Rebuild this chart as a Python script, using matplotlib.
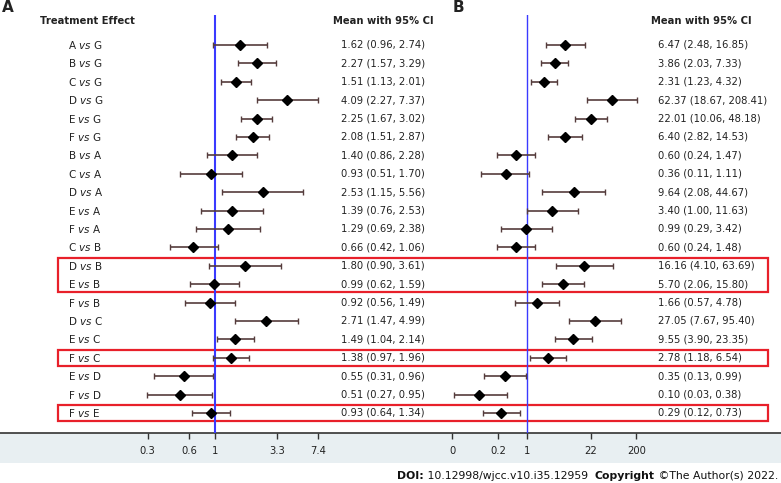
import matplotlib
matplotlib.use("Agg")
import matplotlib.pyplot as plt
from matplotlib.patches import Rectangle
from matplotlib.transforms import blended_transform_factory

labels = ["A vs G", "B vs G", "C vs G", "D vs G", "E vs G", "F vs G",
          "B vs A", "C vs A", "D vs A", "E vs A", "F vs A",
          "C vs B", "D vs B", "E vs B", "F vs B",
          "D vs C", "E vs C", "F vs C",
          "E vs D", "F vs D", "F vs E"]

# panel A: mean, lower, upper
a_mean = [1.62, 2.27, 1.51, 4.09, 2.25, 2.08, 1.40, 0.93, 2.53, 1.39, 1.29,
          0.66, 1.80, 0.99, 0.92, 2.71, 1.49, 1.38, 0.55, 0.51, 0.93]
a_lo = [0.96, 1.57, 1.13, 2.27, 1.67, 1.51, 0.86, 0.51, 1.15, 0.76, 0.69,
        0.42, 0.90, 0.62, 0.56, 1.47, 1.04, 0.97, 0.31, 0.27, 0.64]
a_hi = [2.74, 3.29, 2.01, 7.37, 3.02, 2.87, 2.28, 1.70, 5.56, 2.53, 2.38,
        1.06, 3.61, 1.59, 1.49, 4.99, 2.14, 1.96, 0.96, 0.95, 1.34]

# panel B
b_mean = [6.47, 3.86, 2.31, 62.37, 22.01, 6.40, 0.60, 0.36, 9.64, 3.40, 0.99,
          0.60, 16.16, 5.70, 1.66, 27.05, 9.55, 2.78, 0.35, 0.10, 0.29]
b_lo = [2.48, 2.03, 1.23, 18.67, 10.06, 2.82, 0.24, 0.11, 2.08, 1.00, 0.29,
        0.24, 4.10, 2.06, 0.57, 7.67, 3.90, 1.18, 0.13, 0.03, 0.12]
b_hi = [16.85, 7.33, 4.32, 208.41, 48.18, 14.53, 1.47, 1.11, 44.67, 11.63, 3.42,
        1.48, 63.69, 15.80, 4.78, 95.40, 23.35, 6.54, 0.99, 0.38, 0.73]

a_ticks = [0.2725, 0.607, 1, 3.32, 7.39]
a_ticklabels = ["0.3", "0.6", "1", "3.3", "7.4"]
b_ticks = [0.0275, 0.25, 1, 22.2, 200]
b_ticklabels = ["0", "0.2", "1", "22", "200"]

boxed = [(12, 13), (17, 17), (20, 20)]

W, H = 781, 483
fig = plt.figure(figsize=(W / 100, H / 100), dpi=100)
bg = fig.add_axes([0, 0, 1, 1])
bg.set_xlim(0, W)
bg.set_ylim(H, 0)
bg.axis("off")

TXT = "#222222"
ERR = "#553c3c"
FS = 7.2
row0, step = 45, 18.4
top_px, axis_px = 15, 433

# bottom band + axis line
bg.add_patch(Rectangle((0, axis_px), W, 30, facecolor="#e8eff2", edgecolor="none"))
bg.plot([0, W], [axis_px, axis_px], color="#333333", lw=1.2)


def forest(x0, x1, one_px, px_dec, mean, lo, hi, ticks, ticklabels, lw_ref):
    ax = fig.add_axes([x0 / W, (H - axis_px) / H, (x1 - x0) / W, (axis_px - top_px) / H])
    ax.patch.set_visible(False)
    ax.set_xscale("log")
    ax.set_xlim(10 ** ((x0 - one_px) / px_dec), 10 ** ((x1 - one_px) / px_dec))
    ax.set_ylim((axis_px - row0) / step, (top_px - row0) / step)
    for s in ax.spines.values():
        s.set_visible(False)
    ax.axvline(1, color="#3a3aff", lw=lw_ref, zorder=1)
    y = list(range(len(mean)))
    xerr = [[m - l for m, l in zip(mean, lo)], [h - m for m, h in zip(mean, hi)]]
    ax.errorbar(mean, y, xerr=xerr, fmt="none", ecolor=ERR, elinewidth=1.2,
                capsize=2.5, capthick=1, zorder=2)
    ax.plot(mean, y, "D", color="black", ms=5.5, zorder=3)
    ax.set_yticks([])
    ax.xaxis.set_minor_locator(matplotlib.ticker.NullLocator())
    ax.set_xticks(ticks)
    ax.set_xticklabels(ticklabels)
    ax.tick_params(axis="x", direction="out", length=4, width=1, color="#333333",
                   labelsize=FS, labelcolor=TXT, pad=5)
    return ax


axA = forest(100, 330, 214.7, 119, a_mean, a_lo, a_hi, a_ticks, a_ticklabels, 1.5)
axB = forest(440, 650, 526.7, 47.7, b_mean, b_lo, b_hi, b_ticks, b_ticklabels, 1.0)

tr = blended_transform_factory(bg.transData, axA.transData)

# headers and panel letters
bg.text(2, 8, "A", fontsize=11, fontweight="bold", color=TXT, va="center")
bg.text(453, 8, "B", fontsize=11, fontweight="bold", color=TXT, va="center")
bg.text(40, 21, "Treatment Effect", fontsize=FS, fontweight="bold", color=TXT, va="center")
bg.text(333, 21, "Mean with 95% CI", fontsize=FS, fontweight="bold", color=TXT, va="center")
bg.text(651, 21, "Mean with 95% CI", fontsize=FS, fontweight="bold", color=TXT, va="center")

for i, lab in enumerate(labels):
    p, q = lab.split(" vs ")
    bg.text(68, i, p + r" $\mathit{vs}$ " + q, transform=tr, fontsize=7.5,
            color=TXT, va="center")
    bg.text(341, i, f"{a_mean[i]:.2f} ({a_lo[i]:.2f}, {a_hi[i]:.2f})", transform=tr,
            fontsize=FS, color=TXT, va="center")
    bg.text(658, i, f"{b_mean[i]:.2f} ({b_lo[i]:.2f}, {b_hi[i]:.2f})", transform=tr,
            fontsize=FS, color=TXT, va="center")

for r0, r1 in boxed:
    bg.add_patch(Rectangle((58, r0 - 0.45), 767.5 - 58, (r1 - r0) + 0.9, transform=tr,
                           fill=False, edgecolor="#e8202a", lw=1.6, zorder=5))

# footer
t = bg.text(397, 476, "DOI:", fontsize=7.8, fontweight="bold", color="#111111", va="center")
pieces = [(" 10.12998/wjcc.v10.i35.12959  ", "normal"), ("Copyright", "bold"),
          (" \u00a9The Author(s) 2022.", "normal")]
for s, w in pieces:
    t = bg.annotate(s, xy=(1, 0), xycoords=t, va="bottom", ha="left",
                    fontsize=7.8, fontweight=w, color="#111111")

fig.savefig("out.png", dpi=100)
